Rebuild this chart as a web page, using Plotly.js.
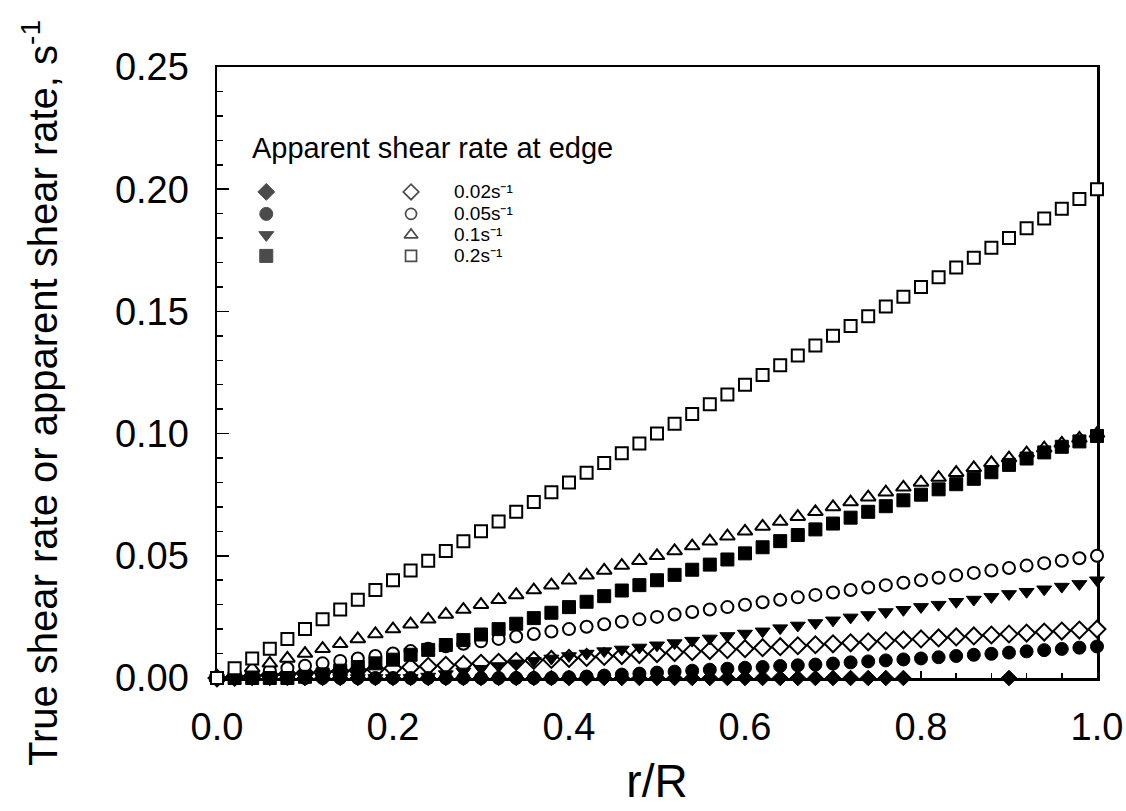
<!DOCTYPE html>
<html>
<head>
<meta charset="utf-8">
<script src="https://cdn.plot.ly/plotly-3.0.1.min.js"></script>
<style>html,body{margin:0;padding:0;background:#fff;}</style>
</head>
<body>
<div id="chart" style="width:1126px;height:811px;"></div>
<script>
// r/R positions
const rR = [0,0.02,0.04,0.06,0.08,0.10,0.12,0.14,0.16,0.18,0.20,0.22,0.24,0.26,0.28,0.30,0.32,0.34,0.36,0.38,0.40,0.42,0.44,0.46,0.48,0.50,0.52,0.54,0.56,0.58,0.60,0.62,0.64,0.66,0.68,0.70,0.72,0.74,0.76,0.78,0.80,0.82,0.84,0.86,0.88,0.90,0.92,0.94,0.96,0.98,1.00];

// Apparent shear rate (open markers)
const apparent002 = [0,0.0004,0.0008,0.0012,0.0016,0.0020,0.0024,0.0028,0.0032,0.0036,0.0040,0.0044,0.0048,0.0052,0.0056,0.0060,0.0064,0.0068,0.0072,0.0076,0.0080,0.0084,0.0088,0.0092,0.0096,0.0100,0.0104,0.0108,0.0112,0.0116,0.0120,0.0124,0.0128,0.0132,0.0136,0.0140,0.0144,0.0148,0.0152,0.0156,0.0160,0.0164,0.0168,0.0172,0.0176,0.0180,0.0184,0.0188,0.0192,0.0196,0.0200];
const apparent005 = [0,0.001,0.002,0.003,0.004,0.005,0.006,0.007,0.008,0.009,0.010,0.011,0.012,0.013,0.014,0.015,0.016,0.017,0.018,0.019,0.020,0.021,0.022,0.023,0.024,0.025,0.026,0.027,0.028,0.029,0.030,0.031,0.032,0.033,0.034,0.035,0.036,0.037,0.038,0.039,0.040,0.041,0.042,0.043,0.044,0.045,0.046,0.047,0.048,0.049,0.050];
const apparent01 = [0,0.002,0.004,0.006,0.008,0.010,0.012,0.014,0.016,0.018,0.020,0.022,0.024,0.026,0.028,0.030,0.032,0.034,0.036,0.038,0.040,0.042,0.044,0.046,0.048,0.050,0.052,0.054,0.056,0.058,0.060,0.062,0.064,0.066,0.068,0.070,0.072,0.074,0.076,0.078,0.080,0.082,0.084,0.086,0.088,0.090,0.092,0.094,0.096,0.098,0.100];
const apparent02 = [0,0.004,0.008,0.012,0.016,0.020,0.024,0.028,0.032,0.036,0.040,0.044,0.048,0.052,0.056,0.060,0.064,0.068,0.072,0.076,0.080,0.084,0.088,0.092,0.096,0.100,0.104,0.108,0.112,0.116,0.120,0.124,0.128,0.132,0.136,0.140,0.144,0.148,0.152,0.156,0.160,0.164,0.168,0.172,0.176,0.180,0.184,0.188,0.192,0.196,0.200];

// True shear rate (filled markers)
const true002 = [0,0,0,0,0,0,0,0,0,0,0,0,0,0,0,0,0,0,0,0,0,0,0,0,0,0,0,0,0,0,0,0,0,0,0,0,0,0,0,0,null,null,null,null,null,0,null,null,null,null,null];
const true005 = [0,0,0,0,0,0,0,0,0,0,0,0,0,0,0,0,0,0,0,0,0.0003,0.0006,0.0010,0.0014,0.0018,0.0022,0.0026,0.0030,0.0034,0.0038,0.0042,0.0045,0.0049,0.0052,0.0055,0.0059,0.0064,0.0068,0.0072,0.0076,0.0080,0.0085,0.0090,0.0095,0.0099,0.0104,0.0109,0.0114,0.0119,0.0124,0.0129];
const true01 = [0,0,0,0,0,0,0,0,0,0,0,0,0.0006,0.0016,0.0027,0.0038,0.0049,0.0060,0.0070,0.0080,0.0090,0.0100,0.0110,0.0117,0.0125,0.0134,0.0143,0.0153,0.0162,0.0172,0.0182,0.0191,0.0204,0.0215,0.0225,0.0236,0.0248,0.0258,0.0270,0.0279,0.0291,0.0300,0.0312,0.0321,0.0332,0.0344,0.0353,0.0363,0.0374,0.0385,0.0400];
const true02 = [0,0,0,0,0,0.0005,0.0015,0.0030,0.0045,0.0060,0.0075,0.0095,0.0115,0.0135,0.0155,0.0178,0.0200,0.0222,0.0245,0.0267,0.0290,0.0312,0.0335,0.0358,0.0380,0.0400,0.0422,0.0443,0.0464,0.0485,0.0510,0.0535,0.0560,0.0585,0.0608,0.0632,0.0656,0.0680,0.0703,0.0727,0.0750,0.0772,0.0793,0.0815,0.0842,0.0872,0.0898,0.0923,0.0946,0.0968,0.0990];

// text
const yTitle = 'True shear rate or apparent shear rate, s<sup>-1</sup>';
const xTitle = 'r/R';
const legendTitle = 'Apparent shear rate at edge';
const legendLabels = ['0.02s\u207B\u00B9','0.05s\u207B\u00B9','0.1s\u207B\u00B9','0.2s\u207B\u00B9'];

const FONT = 'Liberation Sans, Arial, sans-serif';
const filledStyle = (sym, size) => ({symbol: sym, size: size, color: '#000', line: {color: '#000', width: 1}});
const openStyle = (sym, size) => ({symbol: sym, size: size, color: '#fff', line: {color: '#000', width: 2}});

function tr(y, marker) {
  return {x: rR, y: y, type: 'scatter', mode: 'markers', marker: marker, cliponaxis: false, showlegend: false, hoverinfo: 'skip'};
}

const traces = [
  tr(true002, filledStyle('diamond', 12)),
  tr(apparent002, openStyle('diamond', 13)),
  tr(true005, filledStyle('circle', 13)),
  tr(apparent005, openStyle('circle', 12)),
  tr(true01, filledStyle('triangle-down', 13)),
  tr(apparent01, openStyle('triangle-up', 13)),
  tr(true02, filledStyle('square', 13)),
  tr(apparent02, openStyle('square', 12))
];

// legend key markers (positions in data units of the plot)
const keyRowsY = [0.1989, 0.1899, 0.1813, 0.1727];
const keyFilledX = 0.056, keyOpenX = 0.2205, keyLabelX = 0.268;
const filledSyms = ['diamond','circle','triangle-down','square'];
const openSyms = ['diamond','circle','triangle-up','square'];
traces.push({x: keyRowsY.map(() => keyFilledX), y: keyRowsY, type: 'scatter', mode: 'markers',
  marker: {symbol: filledSyms, size: [13,13,13,13], color: '#000', line: {color:'#000', width:1}},
  cliponaxis: false, showlegend: false, hoverinfo: 'skip'});
traces.push({x: keyRowsY.map(() => keyOpenX), y: keyRowsY, type: 'scatter', mode: 'markers',
  marker: {symbol: openSyms, size: [12,11,12,11], color: '#fff', line: {color:'#000', width:1.7}},
  cliponaxis: false, showlegend: false, hoverinfo: 'skip'});

const annotations = [{
  x: 0.038, y: 0.2169, xref: 'x', yref: 'y', text: legendTitle, showarrow: false,
  xanchor: 'left', yanchor: 'middle', font: {family: FONT, size: 29, color: '#000'}
}];
legendLabels.forEach((t, i) => annotations.push({
  x: keyLabelX, y: keyRowsY[i], xref: 'x', yref: 'y', text: t, showarrow: false, borderpad: 0,
  xanchor: 'left', yanchor: 'middle', font: {family: FONT, size: 19, color: '#000'}
}));
// y-axis title
annotations.push({
  x: -0.2011, y: 0.4664, xref: 'paper', yref: 'paper', text: yTitle, textangle: -90,
  showarrow: false, xanchor: 'center', yanchor: 'middle',
  font: {family: FONT, size: 40, color: '#000'}
});

const layout = {
  width: 1126, height: 811,
  margin: {l: 217, r: 29, t: 67, b: 133},
  paper_bgcolor: '#fff', plot_bgcolor: '#fff',
  font: {family: FONT, color: '#000'},
  showlegend: false,
  xaxis: {
    range: [0, 1], tick0: 0, dtick: 0.2, tickformat: '.1f',
    ticks: 'inside', ticklen: 7, tickwidth: 1.5, tickcolor: '#000',
    minor: {ticks: 'inside', dtick: 0.04, ticklen: 5, tickwidth: 1.5, tickcolor: '#000'},
    showline: true, linewidth: 2.5, linecolor: '#000', mirror: true,
    showgrid: false, zeroline: false, layer: 'below traces',
    tickfont: {family: FONT, size: 38, color: '#000'},
    ticklabelstandoff: 14,
    title: {text: xTitle, font: {family: FONT, size: 46, color: '#000'}, standoff: 18},
    automargin: false
  },
  yaxis: {
    range: [0, 0.25], tick0: 0, dtick: 0.05, tickformat: '.2f',
    ticks: 'inside', ticklen: 12, tickwidth: 1.5, tickcolor: '#000',
    minor: {ticks: 'inside', dtick: 0.01, ticklen: 6, tickwidth: 1.5, tickcolor: '#000'},
    showline: true, linewidth: 2.5, linecolor: '#000', mirror: true,
    showgrid: false, zeroline: false, layer: 'below traces',
    tickfont: {family: FONT, size: 38, color: '#000'},
    ticklabelstandoff: 18,
    automargin: false
  },
  annotations: annotations
};

Plotly.newPlot('chart', traces, layout, {displayModeBar: false, staticPlot: true});
</script>
</body>
</html>
